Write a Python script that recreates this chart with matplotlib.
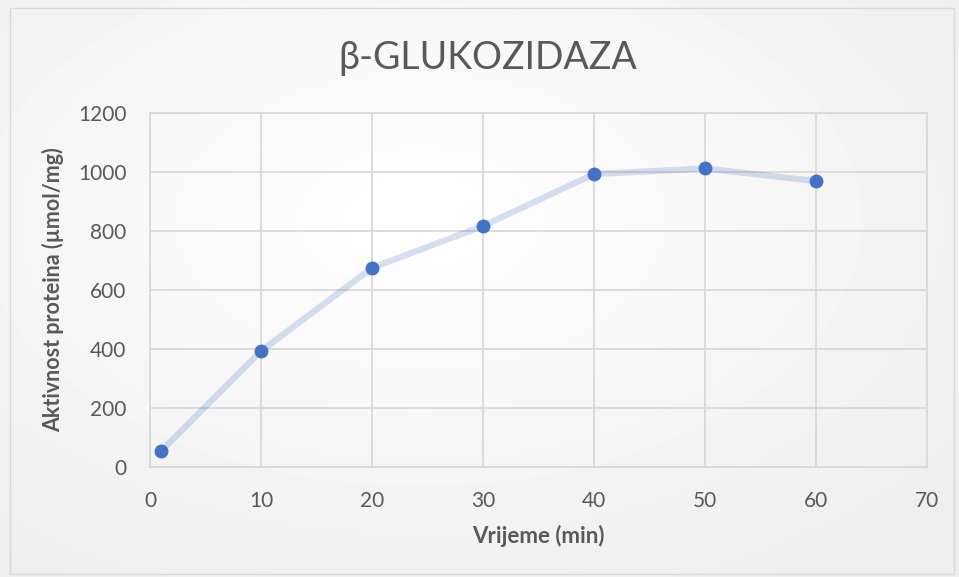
import numpy as np
import matplotlib
matplotlib.use('Agg')
import matplotlib.pyplot as plt
from matplotlib.patches import Rectangle

# podaci očitani s grafa
vrijeme = [1, 10, 20, 30, 40, 50, 60]
aktivnost = [54, 393, 675, 817, 993, 1012, 969]
x_ticks = [0, 10, 20, 30, 40, 50, 60, 70]
y_ticks = [0, 200, 400, 600, 800, 1000, 1200]

plt.rcParams['font.family'] = ['Lato', 'DejaVu Sans']

fig = plt.figure(figsize=(9.59, 5.77), dpi=100)

# pozadina - blagi radijalni gradijent
bg = fig.add_axes([0, 0, 1, 1], zorder=0)
yy, xx = np.mgrid[0:577, 0:959]
r = np.sqrt(((xx - 420) / 959) ** 2 + ((yy - 220) / 577) ** 2)
shade = 1 - 0.07 * np.clip(r / 0.75, 0, 1)
bg.imshow(shade, cmap='gray', vmin=0, vmax=1, aspect='auto', extent=[0, 959, 577, 0])
bg.add_patch(Rectangle((10, 8), 944, 566, fill=False, edgecolor='#d9d9d9', linewidth=1))
bg.set_xlim(0, 959)
bg.set_ylim(577, 0)
bg.axis('off')

ax = fig.add_axes([150 / 959, 110 / 577, 777 / 959, 354 / 577], zorder=1)
ax.patch.set_alpha(0)

ax.plot(vrijeme, aktivnost, color='#4472C4', alpha=0.22, linewidth=4.5, solid_capstyle='round', zorder=3)
ax.plot(vrijeme, aktivnost, linestyle='none', marker='o', markersize=9,
        color='#4472C4', zorder=4)

ax.set_xlim(0, 70)
ax.set_ylim(0, 1200)
ax.set_xticks(x_ticks)
ax.set_yticks(y_ticks)
ax.grid(True, color='#d9d9d9', linewidth=1.3)
ax.set_axisbelow(True)
for s in ax.spines.values():
    s.set_color('#d9d9d9')
    s.set_linewidth(1.3)
ax.tick_params(length=0, labelsize=15, colors='#595959')
ax.tick_params(axis='x', pad=17)
ax.tick_params(axis='y', pad=17)

ax.set_xlabel('Vrijeme (min)', fontsize=16, fontweight='bold', color='#595959', labelpad=10)
ax.set_ylabel('Aktivnost proteina (µmol/mg)', fontsize=15.5, fontweight='bold', color='#595959', labelpad=10)

fig.text(488 / 959, 1 - 58 / 577, 'β-GLUKOZIDAZA', fontsize=27, color='#595959',
         ha='center', va='center')

fig.savefig('out.png', dpi=100)
